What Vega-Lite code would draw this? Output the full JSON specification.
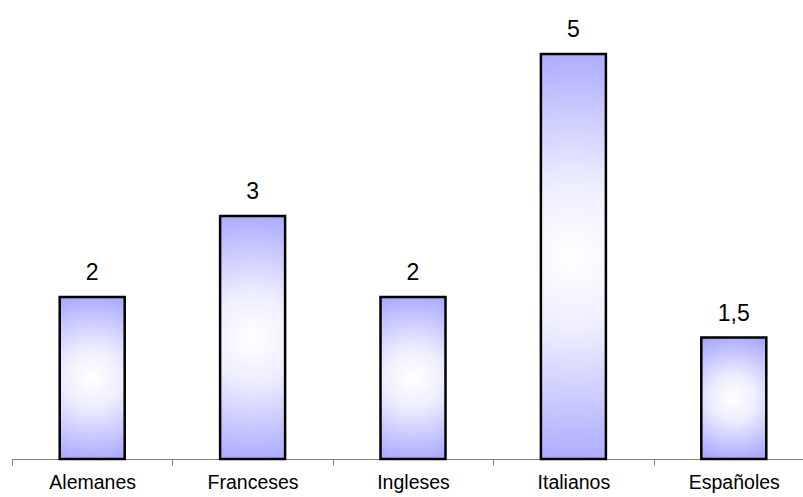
{
  "$schema": "https://vega.github.io/schema/vega-lite/v6.json",
  "width": 791,
  "height": 445.5,
  "autosize": {"type": "none"},
  "padding": {"left": 12, "top": 13.5, "right": 0, "bottom": 38},
  "background": "white",
  "config": {"view": {"stroke": null}, "font": "Liberation Sans"},
  "data": {"values": [
    {"pais": "Alemanes", "valor": 2, "etiqueta": "2"},
    {"pais": "Franceses", "valor": 3, "etiqueta": "3"},
    {"pais": "Ingleses", "valor": 2, "etiqueta": "2"},
    {"pais": "Italianos", "valor": 5, "etiqueta": "5"},
    {"pais": "Españoles", "valor": 1.5, "etiqueta": "1,5"}
  ]},
  "encoding": {
    "x": {"field": "pais", "type": "nominal", "sort": null,
      "scale": {"range": [0, 802], "paddingInner": 0, "paddingOuter": 0},
      "axis": {"title": null, "labelAngle": 0, "labelFontSize": 19.5, "labelColor": "black",
        "labelFont": "Liberation Sans", "labelPadding": 8, "domainColor": "#808080", "tickColor": "#808080",
        "tickSize": 6, "tickBand": "extent", "grid": false}},
    "y": {"field": "valor", "type": "quantitative", "scale": {"domain": [0, 5.5], "nice": false}, "axis": null}
  },
  "layer": [
    {"mark": {"type": "bar", "width": 65, "stroke": "black", "strokeWidth": 2.5,
      "color": {"gradient": "radial", "x1": 0.5, "y1": 0.5, "r1": 0, "x2": 0.5, "y2": 0.5, "r2": 0.6,
        "stops": [{"offset": 0, "color": "#ffffff"}, {"offset": 0.3, "color": "#eeeeff"}, {"offset": 1, "color": "#9999ff"}]}}},
    {"mark": {"type": "text", "baseline": "alphabetic", "dy": -17, "fontSize": 23, "font": "Liberation Sans", "color": "black"},
      "encoding": {"text": {"field": "etiqueta"}}}
  ]
}
